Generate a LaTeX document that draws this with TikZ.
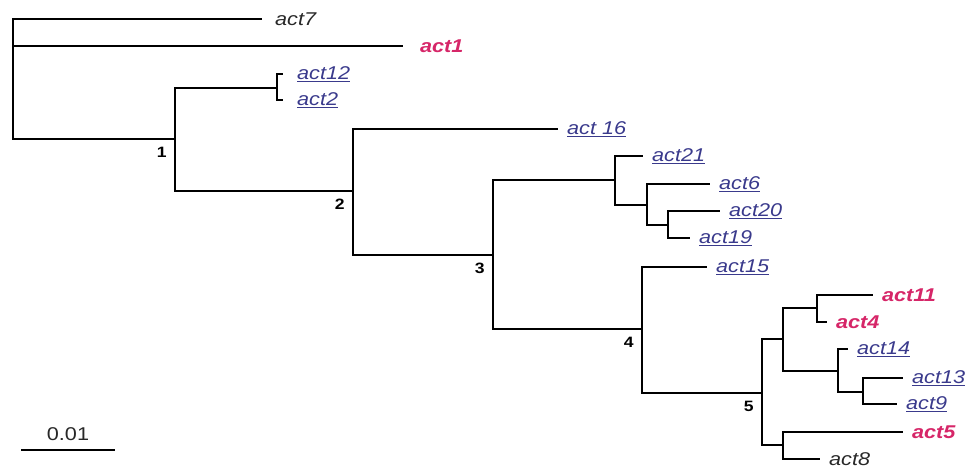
\documentclass[tikz,border=0pt]{standalone}
\usepackage{fontspec}
\setmainfont[FakeStretch=1.17]{Liberation Sans}
\usetikzlibrary{positioning}
\definecolor{actred}{RGB}{214,38,104}
\definecolor{actblue}{RGB}{58,58,140}
\definecolor{actgray}{RGB}{40,40,40}

\begin{document}
\begin{tikzpicture}[x=1pt,y=-1pt,line width=2.3pt,
  leaf/.style={anchor=west,inner sep=0pt,xshift=8pt,text=actgray,
    font=\fontsize{18.5}{20}\selectfont\itshape},
  hit/.style={leaf,text=actred,font=\fontsize{18.5}{20}\selectfont\itshape\bfseries},
  blu/.style={leaf,text=actblue},
  boot/.style={font=\fontsize{15}{16}\selectfont\bfseries,node distance=4pt and 4pt}]
  \useasboundingbox (0,0) rectangle (966,469);

  % internal nodes
  \coordinate (root) at (13,79);
  \coordinate (n1) at (175,139);
  \coordinate (nA) at (277,88);
  \coordinate (n2) at (353,191);
  \coordinate (n3) at (493,255);
  \coordinate (nB) at (615,180);
  \coordinate (nC) at (647,205);
  \coordinate (nD) at (668,225);
  \coordinate (n4) at (642,329);
  \coordinate (n5) at (762,393);
  \coordinate (nE) at (783,339);
  \coordinate (nF) at (817,308);
  \coordinate (nG) at (838,371);
  \coordinate (nI) at (863,392);
  \coordinate (nH) at (783,445);

  % tips
  \coordinate (t7) at (262,19);
  \coordinate (t1) at (403,46);
  \coordinate (t12) at (283,74);
  \coordinate (t2) at (283,100);
  \coordinate (t16) at (558,129);
  \coordinate (t21) at (643,156);
  \coordinate (t6) at (710,184);
  \coordinate (t20) at (720,211);
  \coordinate (t19) at (690,238);
  \coordinate (t15) at (707,267);
  \coordinate (t11) at (873,295);
  \coordinate (t4) at (827,322);
  \coordinate (t14) at (848,349);
  \coordinate (t13) at (903,378);
  \coordinate (t9) at (897,404);
  \coordinate (t5) at (903,432);
  \coordinate (t8) at (820,459);

  \node[leaf,xshift=4pt] (act7) at (t7) {act7};
  \node[hit,xshift=8pt] (act1) at (t1) {act1};
  \node[blu,xshift=5pt] (act12) at (t12) {\underline{act12}};
  \node[blu,xshift=5pt] (act2) at (t2) {\underline{act2}};
  \node[blu] (act16) at (t16) {\underline{act 16}};
  \node[blu] (act21) at (t21) {\underline{act21}};
  \node[blu] (act6) at (t6) {\underline{act6}};
  \node[blu] (act20) at (t20) {\underline{act20}};
  \node[blu] (act19) at (t19) {\underline{act19}};
  \node[blu] (act15) at (t15) {\underline{act15}};
  \node[hit] (act11) at (t11) {act11};
  \node[hit] (act4) at (t4) {act4};
  \node[blu] (act14) at (t14) {\underline{act14}};
  \node[blu] (act13) at (t13) {\underline{act13}};
  \node[blu] (act9) at (t9) {\underline{act9}};
  \node[hit] (act5) at (t5) {act5};
  \node[leaf] (act8) at (t8) {act8};

  % branches
  \draw (root) |- (t7);
  \draw (root) |- (t1);
  \draw (root) |- (n1);
  \draw (n1) |- (nA);
  \draw (nA) |- (t12);
  \draw (nA) |- (t2);
  \draw (n1) |- (n2);
  \draw (n2) |- (t16);
  \draw (n2) |- (n3);
  \draw (n3) |- (nB);
  \draw (nB) |- (t21);
  \draw (nB) |- (nC);
  \draw (nC) |- (t6);
  \draw (nC) |- (nD);
  \draw (nD) |- (t20);
  \draw (nD) |- (t19);
  \draw (n3) |- (n4);
  \draw (n4) |- (t15);
  \draw (n4) |- (n5);
  \draw (n5) |- (nE);
  \draw (nE) |- (nF);
  \draw (nF) |- (t11);
  \draw (nF) |- (t4);
  \draw (nE) |- (nG);
  \draw (nG) |- (t14);
  \draw (nG) |- (nI);
  \draw (nI) |- (t13);
  \draw (nI) |- (t9);
  \draw (n5) |- (nH);
  \draw (nH) |- (t5);
  \draw (nH) |- (t8);

  \node[boot, below left=of n1] (b1) {1};
  \node[boot, below left=of n2] (b2) {2};
  \node[boot, below left=of n3] (b3) {3};
  \node[boot, below left=of n4] (b4) {4};
  \node[boot, below left=of n5] (b5) {5};

  % scale bar
  \coordinate (s0) at (21,450);
  \coordinate (s1) at (115,450);
  \draw (s0) -- (s1) node[midway, above=5pt, text=actgray,
    font=\fontsize{18.5}{20}\selectfont] (sbar) {0.01};
\end{tikzpicture}
\end{document}
